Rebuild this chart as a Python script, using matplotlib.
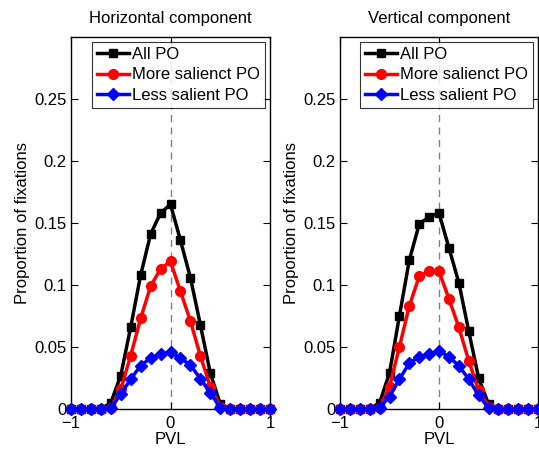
import numpy as np
import matplotlib
matplotlib.use("Agg")
import matplotlib.pyplot as plt

plt.rcParams['font.family'] = ['Liberation Sans', 'DejaVu Sans']

pvl = [round(-1 + 0.1 * i, 1) for i in range(21)]

h_all = [0, 0, 0, 0, 0.005, 0.027, 0.066, 0.108, 0.141, 0.158, 0.165,
         0.136, 0.106, 0.068, 0.029, 0.004, 0, 0, 0, 0, 0]
h_more = [0, 0, 0, 0, 0.001, 0.016, 0.043, 0.073, 0.099, 0.113, 0.119,
          0.095, 0.071, 0.043, 0.018, 0.002, 0, 0, 0, 0, 0]
h_less = [0, 0, 0, 0, 0.0005, 0.012, 0.024, 0.035, 0.041, 0.044, 0.046,
          0.041, 0.0355, 0.0245, 0.013, 0.001, 0, 0, 0, 0, 0]

v_all = [0, 0, 0, 0, 0.005, 0.029, 0.075, 0.120, 0.149, 0.155, 0.158,
         0.130, 0.102, 0.063, 0.025, 0.004, 0, 0, 0, 0, 0]
v_more = [0, 0, 0, 0, 0.001, 0.018, 0.050, 0.083, 0.107, 0.111, 0.111,
          0.089, 0.066, 0.039, 0.015, 0.002, 0, 0, 0, 0, 0]
v_less = [0, 0, 0, 0, 0.001, 0.010, 0.024, 0.037, 0.042, 0.044, 0.047,
          0.042, 0.035, 0.024, 0.011, 0.001, 0, 0, 0, 0, 0]

titles = ["Horizontal component", "Vertical component"]
labels = ["All PO", "More salienct PO", "Less salient PO"]
yticks = [0, 0.05, 0.1, 0.15, 0.2, 0.25]
ytick_labels = ["0", "0.05", "0.1", "0.15", "0.2", "0.25"]
xticks = [-1, 0, 1]
xtick_labels = ["\u22121", "0", "1"]

fig = plt.figure(figsize=(5.39, 4.5), dpi=100)
W, H = 539, 450
rects = [(71, 41, 199, 372), (340, 41, 198, 372)]
data = [(h_all, h_more, h_less), (v_all, v_more, v_less)]
FS = 12

for rect, title, series in zip(rects, titles, data):
    x0, y0, w, h = rect
    ax = fig.add_axes([x0 / W, y0 / H, w / W, h / H])
    ax.axvline(0, color='#808080', linestyle=(0, (5, 4)), linewidth=1, zorder=1)
    styles = [('black', 's', 6), ('red', 'o', 7), ('blue', 'D', 6)]
    for vals, lab, (c, m, ms) in zip(series, labels, styles):
        ax.plot(pvl, vals, color=c, marker=m, markersize=ms, linewidth=2.5,
                label=lab, clip_on=False, zorder=3)
    ax.set_xlim(-1, 1)
    ax.set_ylim(0, 0.3)
    ax.set_xticks(xticks)
    ax.set_xticklabels(xtick_labels)
    ax.set_yticks(yticks)
    ax.set_yticklabels(ytick_labels)
    ax.tick_params(direction='in', top=True, right=True, labelsize=FS,
                   length=5, width=0.8)
    ax.tick_params(axis='x', pad=5)
    ax.tick_params(axis='y', pad=3)
    for s in ax.spines.values():
        s.set_linewidth(1.0)
    ax.set_title(title, fontsize=FS, pad=10)
    ax.set_xlabel("PVL", fontsize=FS, labelpad=1)
    ax.set_ylabel("Proportion of fixations", fontsize=FS, labelpad=3)
    leg = ax.legend(loc='upper right', fontsize=FS, frameon=True, fancybox=False,
                    edgecolor='black', borderpad=0.3, labelspacing=0.33,
                    handlelength=1.9, handletextpad=0.2, borderaxespad=0.0,
                    bbox_to_anchor=(0.975, 0.987))
    leg.get_frame().set_linewidth(0.8)

fig.savefig("out.png", dpi=100)
